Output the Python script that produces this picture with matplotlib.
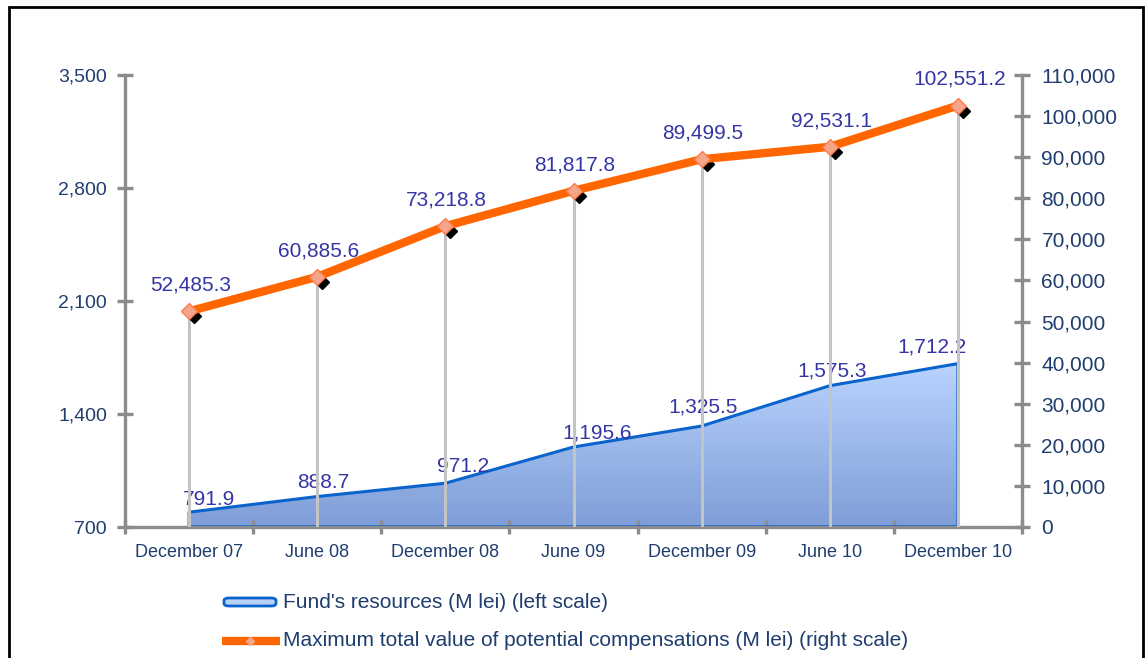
import numpy as np
import matplotlib
matplotlib.use("Agg")
import matplotlib.pyplot as plt
from matplotlib.patches import Polygon, FancyBboxPatch, Rectangle
from matplotlib.lines import Line2D
import matplotlib.transforms as mtransforms

plt.rcParams['font.family'] = ['Liberation Sans', 'DejaVu Sans']

categories = ["December 07", "June 08", "December 08", "June 09",
              "December 09", "June 10", "December 10"]
fund_resources = [791.9, 888.7, 971.2, 1195.6, 1325.5, 1575.3, 1712.2]
max_compensations = [52485.3, 60885.6, 73218.8, 81817.8, 89499.5, 92531.1, 102551.2]
left_ticks = [700, 1400, 2100, 2800, 3500]
right_ticks = list(range(0, 110001, 10000))
legend_labels = ["Fund's resources (M lei) (left scale)",
                 "Maximum total value of potential compensations (M lei) (right scale)"]

# label offsets in points (style only)
blue_off = [(14, 2), (4, 3), (13, 5), (17, 3), (1, 7), (2, 4), (-19, 5)]

W, H = 1145, 658
fig = plt.figure(figsize=(W / 100, H / 100), dpi=100)
ax = fig.add_axes([125 / W, 1 - 527 / H, (1022 - 125) / W, (527 - 75) / H])
ax2 = ax.twinx()

navy = '#1f3d6e'
lab_col = '#3535a5'
gray = '#8c8c8c'

x = np.arange(len(categories))
ax.set_xlim(-0.5, len(categories) - 0.5)
ax.set_ylim(left_ticks[0], left_ticks[-1])
ax2.set_ylim(right_ticks[0], right_ticks[-1])

# gradient area
verts = [(x[0], left_ticks[0])] + list(zip(x, fund_resources)) + [(x[-1], left_ticks[0])]
poly = Polygon(verts, closed=True, facecolor='none', edgecolor='none')
ax.add_patch(poly)
grad = np.linspace(0, 1, 256).reshape(-1, 1)
cmap = matplotlib.colors.LinearSegmentedColormap.from_list('g', ['#7f9dd6', '#b9d4ff'])
im = ax.imshow(grad, extent=[x[0], x[-1], left_ticks[0], max(fund_resources)],
               origin='lower', cmap=cmap, aspect='auto', zorder=1)
im.set_clip_path(poly)
ax.plot([x[0]] + list(x) + [x[-1]], [left_ticks[0]] + fund_resources + [left_ticks[0]],
        color='#0a64cc', lw=2.2, zorder=2, solid_joinstyle='round')
ax.plot([x[0], x[-1]], [left_ticks[0] + 8, left_ticks[0] + 8], color='#0a64cc', lw=1.2, zorder=2)
ax.plot([x[0], x[0]], [left_ticks[0], fund_resources[0]], color='#0a64cc', lw=1.2, zorder=2)

# blue labels
for xi, v, off in zip(x, fund_resources, blue_off):
    ax.annotate(f"{v:,.1f}", (xi, v), xytext=off, textcoords='offset points',
                ha='center', va='bottom', fontsize=15, color=lab_col, zorder=3)

# droplines (right axis)
for xi, v in zip(x, max_compensations):
    ax2.plot([xi, xi], [0, v], color='#c4c4c4', lw=2.2, zorder=4)

# shadow markers
shadow = mtransforms.offset_copy(ax2.transData, fig=fig, x=5, y=-5, units='dots')
ax2.plot(x, max_compensations, 'D', color='black', ms=7, transform=shadow, zorder=5)
ax2.plot(x, max_compensations, color='#ff6600', lw=6, zorder=6, solid_capstyle='butt')
ax2.plot(x, max_compensations, 'D', mfc='#f5a58a', mec='#ff7a4a', ms=8, mew=1, zorder=7, ls='none')
for xi, v in zip(x, max_compensations):
    ax2.annotate(f"{v:,.1f}", (xi, v), xytext=(1, 12), textcoords='offset points',
                 ha='center', va='bottom', fontsize=15, color=lab_col, zorder=8)

# axes styling
for a in (ax, ax2):
    a.spines['top'].set_visible(False)
    a.spines['left'].set_visible(a is ax)
    a.spines['right'].set_visible(a is ax2)
    a.spines['bottom'].set_visible(a is ax)
ax.spines['left'].set_color(gray)
ax.spines['left'].set_linewidth(2.4)
ax2.spines['right'].set_color(gray)
ax2.spines['right'].set_linewidth(2.4)
ax.spines['bottom'].set_color(gray)
ax.spines['bottom'].set_linewidth(2.4)

ax.set_yticks(left_ticks)
ax.set_yticklabels([f"{t:,}" for t in left_ticks])
ax.tick_params(axis='y', direction='inout', length=12, width=2.4, color=gray,
               labelsize=14, labelcolor=navy, pad=7)
ax2.set_yticks(right_ticks)
ax2.set_yticklabels([f"{t:,}" for t in right_ticks])
ax2.tick_params(axis='y', direction='inout', length=12, width=2.4, color=gray,
                labelsize=15, labelcolor=navy, pad=8)

ax.set_xticks(x)
ax.set_xticklabels(categories)
ax.tick_params(axis='x', length=0, labelsize=13, labelcolor=navy, pad=12)
ax.set_xticks(np.arange(-0.5, len(categories)), minor=True)
ax.tick_params(axis='x', which='minor', direction='inout', length=10, width=2.4, color=gray)
ax.set_zorder(0)
ax2.set_zorder(1)
ax2.patch.set_visible(False)

# legend (manual)
fig.add_artist(FancyBboxPatch((224 / W, 1 - 606 / H), 52 / W, 8 / H,
                              boxstyle='round,pad=0,rounding_size=0.004',
                              facecolor='#b9d0f5', edgecolor='#0a64cc', lw=2,
                              transform=fig.transFigure))
fig.text(283 / W, 1 - 602 / H, legend_labels[0], fontsize=15, color=navy, va='center')
fig.add_artist(Line2D([222 / W, 280 / W], [1 - 641 / H, 1 - 641 / H], color='#ff6600', lw=6,
                      solid_capstyle='butt', transform=fig.transFigure))
fig.add_artist(Line2D([250 / W], [1 - 641 / H], marker='D', ms=4, mfc='#f5a58a', mec='#f5a58a',
                      transform=fig.transFigure))
fig.text(283 / W, 1 - 641 / H, legend_labels[1], fontsize=15, color=navy, va='center')

# frame
fig.add_artist(Rectangle((9 / W, -0.05), (1143 - 9) / W, 1 - 7 / H + 0.05, fill=False,
                         edgecolor='black', lw=2, transform=fig.transFigure))

fig.savefig("out.png", dpi=100)
